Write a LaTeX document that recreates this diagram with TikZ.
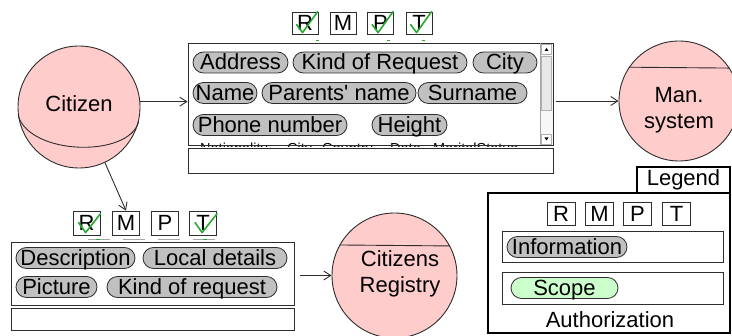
\documentclass[tikz,border=0pt]{standalone}
\usepackage{fontspec}
\setmainfont{Liberation Sans}
\usetikzlibrary{arrows.meta}
\definecolor{pinkfill}{RGB}{255,204,204}
\definecolor{pillgray}{RGB}{192,192,192}
\definecolor{scopegreen}{RGB}{204,255,204}
\definecolor{checkgreen}{RGB}{40,170,50}
\definecolor{linegray}{RGB}{45,45,45}
\begin{document}
\begin{tikzpicture}[x=1pt,y=-1pt,
  every node/.style={font=\fontsize{22}{26}\selectfont},
  sphere/.style={circle, draw=linegray, line width=0.9pt, fill=pinkfill, inner sep=0pt},
  label/.style={align=center, inner sep=0pt},
  frame/.style={draw=linegray, line width=0.9pt, inner sep=0pt},
  thickframe/.style={draw=black, line width=1.8pt, inner sep=0pt},
  pill/.style={draw=linegray, line width=0.8pt, fill=pillgray, rounded corners=10.5pt,
    minimum height=21pt, inner sep=0pt, text height=15pt, text depth=0pt},
  scopepill/.style={pill, fill=scopegreen},
  auth/.style={draw=linegray, line width=0.8pt, inner sep=0pt, minimum width=27pt, minimum height=23pt},
  check/.style={draw=checkgreen, line width=1.6pt, line cap=round, line join=round},
  conn/.style={draw=linegray, line width=0.9pt, -{Straight Barb[length=7pt,width=9pt]}},
  hidden/.style={font=\fontsize{14.5}{16}\selectfont, inner sep=0pt, anchor=base west}
]
\useasboundingbox (0,0) rectangle (732,336);

% ---------- spheres ----------
\node[sphere, minimum size=122pt] (citizen) at (79,107) {};
\draw[linegray, line width=0.9pt] (citizen.188) .. controls +(12,40) and +(-10,36) .. (citizen.-14);
\node[label] (citizenlabel) at (79,104) {Citizen};

\node[sphere, minimum size=120pt] (man) at (679,101) {};
\draw[linegray, line width=0.9pt] (man.146.6) -- (man.33.4);
\node[label] (manlabel) at (679,110) {Man.\\system};

\node[sphere, minimum size=125pt] (reg) at (394.5,275.5) {};
\draw[linegray, line width=0.9pt] (reg.151.8) -- (reg.28.2);
\node[label] (reglabel) at (400,274) {Citizens\\Registry};

% ---------- top information box ----------
\begin{scope}
  \clip (190,142.5) rectangle (538,146.5);
  \node[hidden] (h1) at (200,153.5) {Nationality};
  \node[hidden] (h2) at (287,153.5) {City};
  \node[hidden] (h3) at (322,153.5) {Country};
  \node[hidden] (h4) at (390,153.5) {Date};
  \node[hidden] (h5) at (433,153.5) {MaritalStatus};
\end{scope}
\node[frame, minimum width=365pt, minimum height=102pt] (box1) at (370.5,94) {};
\node[frame, minimum width=365pt, minimum height=25pt] (box1b) at (370.5,160.5) {};

% scrollbar
\fill[gray!6] (540,44) rectangle (552.5,144.5);
\draw[gray!70, line width=0.6pt] (540,43.5) -- (540,145);
\draw[gray!60, fill=gray!18, line width=0.5pt] (541.5,56) rectangle (551.5,110);
\draw[gray!60, fill=white, line width=0.5pt] (541.5,44.5) rectangle (551.5,54);
\fill[black] (544.5,51) -- (548.5,51) -- (546.5,48) -- cycle;
\draw[gray!60, fill=white, line width=0.5pt] (541.5,134) rectangle (551.5,144);
\fill[black] (544.5,137.5) -- (548.5,137.5) -- (546.5,140.5) -- cycle;

\node[pill, minimum width=95pt]  (p1) at (240.5,62.5) {Address};
\node[pill, minimum width=174pt] (p2) at (380,62.5) {Kind of Request};
\node[pill, minimum width=64pt]  (p3) at (505,62.5) {City};
\node[pill, minimum width=64pt]  (p4) at (225,93) {Name};
\node[pill, minimum width=154pt] (p5) at (339,93) {Parents\textquotesingle{} name};
\node[pill, minimum width=109pt] (p6) at (472.5,93) {Surname};
\node[pill, minimum width=154pt] (p7) at (270,125) {Phone number};
\node[pill, minimum width=75pt]  (p8) at (409.5,125) {Height};

% top authorization boxes
\node[auth, minimum width=26pt, minimum height=22pt] (r1) at (305,23) {R};
\node[auth, minimum width=26pt, minimum height=22pt] (m1) at (343,23) {M};
\node[auth, minimum width=26pt, minimum height=22pt] (pp1) at (380.5,23) {P};
\node[auth, minimum width=26pt, minimum height=22pt] (t1) at (419,23) {T};
\foreach \b in {r1,pp1,t1}
  \draw[check] ([shift={(5,13)}]\b.north west) -- ++(6,8) -- ++(15,-21);
\foreach \x in {317,388,423}
  \draw[checkgreen, line width=0.9pt] (\x-1.5,40.5) -- (\x+1.5,40.5);

% ---------- bottom information box ----------
\node[frame, minimum width=283pt, minimum height=63pt] (box2) at (152.5,273.5) {};
\node[frame, minimum width=283pt, minimum height=22pt] (box2b) at (152.5,319) {};
\node[pill, minimum width=119pt] (q1) at (75.5,258) {Description};
\node[pill, minimum width=144pt] (q2) at (215,258) {Local details};
\node[pill, minimum width=81pt]  (q3) at (56.5,287) {Picture};
\node[pill, minimum width=170pt] (q4) at (192,287) {Kind of request};

\node[auth, minimum height=24pt] (r2) at (86.5,223) {R};
\node[auth, minimum height=24pt] (m2) at (126,223) {M};
\node[auth, minimum height=24pt] (pp2) at (165,223) {P};
\node[auth, minimum height=24pt] (t2) at (203,223) {T};
\foreach \b in {r2,t2}
  \draw[check] ([shift={(6,12)}]\b.north west) -- ++(7,10) -- ++(15,-19);
\foreach \a/\b in {88/110,123/145,158/180,193/215}
  \draw[gray!70, line width=0.6pt] (\a,239.5) -- (\b,239.5);
\foreach \x in {98,205}
  \draw[checkgreen, line width=0.9pt] (\x-2,239.5) -- (\x+2,239.5);

% ---------- legend ----------
\node[thickframe, minimum width=93pt, minimum height=26pt] (legend) at (683.5,180) {Legend};
\node[thickframe, minimum width=242pt, minimum height=140pt] (authbox) at (609,263) {};
\node[auth, minimum width=28pt] (lr) at (561,213.5) {R};
\node[auth, minimum width=28pt] (lm) at (599.5,213.5) {M};
\node[auth, minimum width=28pt] (lp) at (637.5,213.5) {P};
\node[auth, minimum width=28pt] (lt) at (676.5,213.5) {T};
\node[frame, minimum width=221pt, minimum height=31pt] (infobox) at (612.5,246.5) {};
\node[pill, minimum width=120pt] (infopill) at (567,247) {Information};
\node[frame, minimum width=221pt, minimum height=32pt] (scopebox) at (612.5,288) {};
\node[scopepill, minimum width=107pt] (scopepill) at (564.5,288) {Scope};
\node[label] (authlabel) at (610,320) {Authorization};

% ---------- connectors ----------
\draw[conn] (citizen.5) -- (citizen.5 -| box1.west);
\draw[conn] (citizen.-65) -- (m2.north);
\draw[conn, shorten <=3pt] (box1.east |- man.west) -- (man.west);
\draw[conn, shorten <=6pt] (box2.east |- reg.west) -- (reg.west);
\end{tikzpicture}
\end{document}
